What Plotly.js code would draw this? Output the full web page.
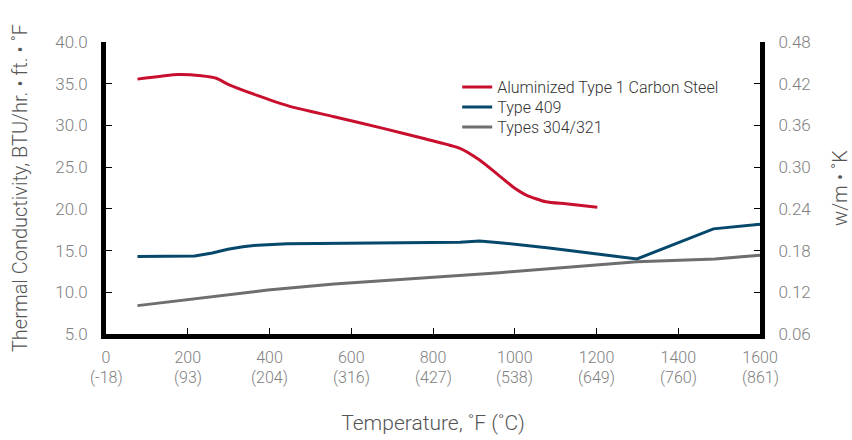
<!DOCTYPE html>
<html>
<head>
<meta charset="utf-8">
<script src="https://cdn.plot.ly/plotly-3.0.1.min.js"></script>
<style>html,body{margin:0;padding:0;background:#fff;}#chart{width:852px;height:440px;}</style>
</head>
<body>
<div id="chart"></div>
<script>
// Data (temperature in °F, conductivity in BTU/hr·ft·°F)
const seriesNames = ["Aluminized Type 1 Carbon Steel", "Type 409", "Types 304/321"];
const seriesColors = ["#c8102e", "#05486b", "#6e6e70"];

const aluTemp = [77, 177, 233, 270, 300, 370, 452, 558, 678, 780, 866, 914, 955, 995, 1028, 1076, 1125, 1202];
const aluK    = [35.55, 36.1, 35.95, 35.65, 34.9, 33.6, 32.25, 31.05, 29.65, 28.4, 27.25, 25.85, 24.25, 22.65, 21.65, 20.85, 20.6, 20.2];

const t409Temp = [77, 217, 260, 298, 335, 371, 444, 639, 866, 914, 963, 1084, 1299, 1486, 1600];
const t409K    = [14.3, 14.35, 14.7, 15.15, 15.45, 15.65, 15.82, 15.9, 16.0, 16.15, 15.95, 15.3, 14.0, 17.6, 18.15];

const t304Temp = [77, 396, 558, 963, 1299, 1490, 1600];
const t304K    = [8.4, 10.27, 11.0, 12.35, 13.67, 14.0, 14.45];

const xTickVals = [0, 200, 400, 600, 800, 1000, 1200, 1400, 1600];
const xTickF = ["0", "200", "400", "600", "800", "1000", "1200", "1400", "1600"];
const xTickC = ["(-18)", "(93)", "(204)", "(316)", "(427)", "(538)", "(649)", "(760)", "(861)"];
const yTickVals = [5, 10, 15, 20, 25, 30, 35, 40];
const y2TickVals = [0.06, 0.12, 0.18, 0.24, 0.30, 0.36, 0.42, 0.48];

const FONT = "Roboto, 'Liberation Sans', Arial, sans-serif";
const TICKFONT = {family: FONT, size: 17, color: "#808080", weight: 300};
const XTICKFONT = {family: FONT, size: 16, color: "#808080", weight: 300};
const LEGFONT = {family: FONT, size: 16, color: "#333", weight: 300};

const traces = [
  {x: aluTemp, y: aluK, name: seriesNames[0], mode: "lines", legend: "legend",
   line: {color: seriesColors[0], width: 3, shape: "spline", smoothing: 0.6}},
  {x: t409Temp, y: t409K, name: seriesNames[1], mode: "lines", legend: "legend2",
   line: {color: seriesColors[1], width: 3, shape: "linear"}},
  {x: t304Temp, y: t304K, name: seriesNames[2], mode: "lines", legend: "legend3",
   line: {color: seriesColors[2], width: 3, shape: "linear"}},
  // empty trace so the secondary (SI) axis is drawn
  {x: [], y: [], yaxis: "y2", showlegend: false, hoverinfo: "skip", mode: "lines"}
];

function leg(yPix) {
  return {x: 0.537, y: (334 - yPix) / 292, xanchor: "left", yanchor: "middle",
          font: LEGFONT, bgcolor: "rgba(0,0,0,0)", itemwidth: 30, borderwidth: 0};
}

// Celsius equivalents printed below the °F tick labels
const celsiusLabels = xTickVals.map((v, i) => ({
  x: v, xref: "x", y: 0, yref: "paper", text: xTickC[i],
  showarrow: false, xanchor: "center", yanchor: "middle", yshift: -43,
  font: XTICKFONT
}));

const layout = {
  width: 852, height: 440,
  margin: {l: 106, r: 92, t: 42, b: 106},
  paper_bgcolor: "#fff", plot_bgcolor: "#fff",
  font: {family: FONT, color: "#777", size: 16, weight: 300},
  showlegend: true,
  legend: leg(87), legend2: leg(107), legend3: leg(127),
  annotations: celsiusLabels,
  xaxis: {
    range: [0, 1600], tickvals: xTickVals, ticktext: xTickF,
    showgrid: false, zeroline: false, showline: true, linecolor: "#000", linewidth: 5,
    ticks: "inside", ticklen: 6, tickwidth: 1, tickcolor: "#000",
    tickfont: XTICKFONT, ticklabelstandoff: 5,
    title: {text: "Temperature, ˚F (˚C)", font: {family: FONT, size: 21, color: "#555", weight: 300}, standoff: 51}
  },
  yaxis: {
    range: [5, 40], tickvals: yTickVals, tickformat: ".1f",
    showgrid: false, zeroline: false, showline: true, linecolor: "#000", linewidth: 5,
    ticks: "inside", ticklen: 6, tickwidth: 1, tickcolor: "#000",
    tickfont: TICKFONT, ticklabelstandoff: 10,
    title: {text: "Thermal Conductivity, BTU/hr. • ft. • ˚F", font: {family: FONT, size: 20, color: "#555", weight: 300}, standoff: 24}
  },
  yaxis2: {
    overlaying: "y", side: "right", anchor: "x",
    range: [0.06, 0.48], tickvals: y2TickVals, tickformat: ".2f",
    showgrid: false, zeroline: false, showline: true, linecolor: "#000", linewidth: 5,
    ticks: "inside", ticklen: 6, tickwidth: 1, tickcolor: "#000",
    tickfont: TICKFONT, ticklabelstandoff: 10,
    title: {text: "w/m • ˚K", font: {family: FONT, size: 20, color: "#555", weight: 300}, standoff: 28}
  }
};

Plotly.newPlot("chart", traces, layout, {displayModeBar: false, staticPlot: true});
</script>
</body>
</html>
